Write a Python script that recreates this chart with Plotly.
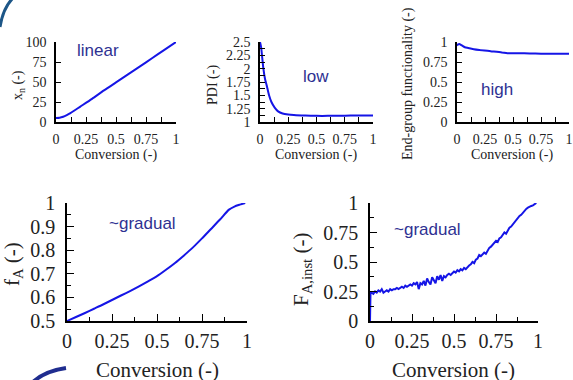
import plotly.graph_objects as go

# ---------------- data ----------------
conv_xn = [0, 0.03, 0.06, 0.09, 0.12, 0.16, 0.2, 0.3, 0.4, 0.5, 0.6, 0.7, 0.8, 0.9, 1.0]
xn = [5, 5.3, 6.5, 8.5, 11, 15, 19, 29, 39.5, 49.5, 59.5, 69.5, 79.7, 89.8, 100]

conv_pdi = [0, 0.01, 0.02, 0.03, 0.045, 0.06, 0.08, 0.1, 0.13, 0.16, 0.2, 0.25, 0.3, 0.4, 0.5, 0.6, 0.7, 0.8, 0.9, 1.0]
pdi = [2.5, 2.4, 2.2, 2.0, 1.8, 1.68, 1.5, 1.38, 1.27, 1.2, 1.16, 1.14, 1.13, 1.12, 1.115, 1.115, 1.117, 1.12, 1.12, 1.12]

conv_egf = [0, 0.01, 0.02, 0.04, 0.07, 0.1, 0.15, 0.2, 0.3, 0.4, 0.45, 0.5, 0.6, 0.7, 0.8, 0.9, 1.0]
egf = [0.955, 0.97, 0.975, 0.96, 0.935, 0.925, 0.91, 0.9, 0.885, 0.87, 0.86, 0.86, 0.858, 0.855, 0.853, 0.853, 0.853]

conv_fa = [0, 0.05, 0.1, 0.15, 0.2, 0.25, 0.3, 0.35, 0.4, 0.45, 0.5, 0.55, 0.6, 0.65, 0.7, 0.75, 0.8, 0.85, 0.9, 0.93, 0.96, 0.99]
fa = [0.5, 0.517, 0.534, 0.552, 0.570, 0.589, 0.608, 0.627, 0.647, 0.668, 0.69, 0.717, 0.746, 0.778, 0.812, 0.85, 0.89, 0.93, 0.972, 0.985, 0.993, 1.0]

conv_fi = [0, 0.003, 0.01, 0.02, 0.03, 0.04, 0.05, 0.06, 0.07, 0.08, 0.09, 0.10,
           0.11, 0.12, 0.13, 0.14, 0.15, 0.16, 0.17, 0.18, 0.19, 0.20,
           0.21, 0.22, 0.23, 0.24, 0.25, 0.26, 0.27, 0.28, 0.29, 0.30,
           0.31, 0.32, 0.33, 0.34, 0.35, 0.36, 0.37, 0.38, 0.39, 0.40,
           0.41, 0.42, 0.43, 0.44, 0.45, 0.46, 0.47, 0.48, 0.49, 0.50,
           0.51, 0.52, 0.53, 0.54, 0.55, 0.56, 0.57, 0.58, 0.59, 0.60,
           0.61, 0.62, 0.63, 0.64, 0.65, 0.66, 0.67, 0.68, 0.69, 0.70,
           0.71, 0.72, 0.73, 0.74, 0.75, 0.76, 0.77, 0.78, 0.79, 0.80,
           0.81, 0.82, 0.83, 0.84, 0.85, 0.86, 0.87, 0.88, 0.89, 0.90,
           0.91, 0.92, 0.93, 0.94, 0.95, 0.96, 0.97, 0.98, 0.99]
fi = [0.0, 0.24, 0.24, 0.23, 0.25, 0.24, 0.26, 0.25, 0.27, 0.24, 0.25, 0.26,
      0.25, 0.27, 0.26, 0.27, 0.27, 0.28, 0.27, 0.28, 0.29, 0.28,
      0.30, 0.29, 0.30, 0.31, 0.30, 0.32, 0.31, 0.33, 0.27, 0.32,
      0.31, 0.34, 0.30, 0.36, 0.33, 0.31, 0.37, 0.34, 0.32, 0.38,
      0.35, 0.39, 0.34, 0.38, 0.37, 0.39, 0.40, 0.39, 0.41, 0.42,
      0.41, 0.43, 0.42, 0.44, 0.43, 0.45, 0.44, 0.46, 0.47, 0.48,
      0.50, 0.49, 0.52, 0.53, 0.56, 0.55, 0.57, 0.58, 0.57, 0.60,
      0.62, 0.63, 0.65, 0.66, 0.68, 0.67, 0.70, 0.71, 0.73, 0.75,
      0.74, 0.77, 0.79, 0.80, 0.82, 0.84, 0.85, 0.87, 0.89, 0.90,
      0.92, 0.94, 0.95, 0.96, 0.97, 0.975, 0.98, 0.99, 1.00]

x_ticks = [0, 0.25, 0.5, 0.75, 1]
x_ticklabels = ["0", "0.25", "0.5", "0.75", "1"]

# ---------------- figure ----------------
W, H = 573, 380
LINE = "#1515e6"
ANN = "#2e3192"
SERIF = "Liberation Serif"
SANS = "Liberation Sans"


def px_x(p):
    return p / W


def px_y(p):
    return 1 - p / H


fig = go.Figure()

panels = [
    # (x data, y data, xpx0, xpx1, ypx_top, ypx_bot, yrange, ydtick, yminor, size, spline)
    (conv_xn, xn, 56, 176, 42, 122, [0, 100], 25, None, "s", True),
    (conv_pdi, pdi, 260, 373, 42, 122, [1, 2.5], 0.25, 0.125, "s", True),
    (conv_egf, egf, 457, 569, 42, 122, [0, 1], 0.25, 0.125, "s", True),
    (conv_fa, fa, 67, 247, 203, 321, [0.5, 1], 0.1, 0.05, "l", True),
    (conv_fi, fi, 370, 538, 203, 321, [0, 1], 0.25, 0.125, "l", False),
]

layout_axes = {}
for i, (xd, yd, x0, x1, yt, yb, yr, ydt, ymin, sz, spl) in enumerate(panels):
    n = "" if i == 0 else str(i + 1)
    fig.add_trace(go.Scatter(x=xd, y=yd, mode="lines",
                             line=dict(color=LINE, width=2,
                                       shape="spline" if spl else "linear",
                                       smoothing=0.7),
                             xaxis="x" + n, yaxis="y" + n, cliponaxis=False,
                             showlegend=False, hoverinfo="skip"))
    fs = 14 if sz == "s" else 20
    tl = 5 if sz == "s" else 7
    ml = 5 if sz == "s" else 4
    common = dict(showline=True, linecolor="black", linewidth=1.5,
                  ticks="inside", tickcolor="black", tickwidth=1.2,
                  ticklen=tl, showgrid=False, zeroline=False, automargin=False,
                  tickfont=dict(family=SERIF, size=fs, color="#222"),
                  fixedrange=True)
    xa = dict(common, domain=[px_x(x0), px_x(x1)], range=[0, 1],
              tickvals=x_ticks, ticktext=x_ticklabels,
              anchor="y" + n, ticklabelstandoff=3 if sz == "s" else 1,
              minor=dict(ticks="inside", tickvals=[0.125, 0.375, 0.625, 0.875],
                         ticklen=ml, tickcolor="black", tickwidth=1.2))
    ya = dict(common, domain=[px_y(yb), px_y(yt)], range=yr,
              dtick=ydt, tick0=yr[0], anchor="x" + n,
              ticklabelstandoff=5 if sz == "s" else 6)
    if ymin is not None:
        ya["minor"] = dict(ticks="inside", dtick=ymin, ticklen=ml,
                           tickcolor="black", tickwidth=1.2)
    layout_axes["xaxis" + n] = xa
    layout_axes["yaxis" + n] = ya

fig.update_layout(**layout_axes)

annotations = []


def ann(text, x, y, size, family, color, angle=0):
    annotations.append(dict(text=text, x=px_x(x), y=px_y(y), xref="paper", yref="paper",
                            showarrow=False, xanchor="center", yanchor="middle",
                            textangle=angle, font=dict(family=family, size=size, color=color)))


# axis titles
ann("x<sub>n</sub> (-)", 18, 85, 14, SERIF, "#222", -90)
ann("PDI (-)", 213, 85, 14, SERIF, "#222", -90)
ann("End-group functionality (-)", 408, 84, 14, SERIF, "#222", -90)
ann("Conversion (-)", 116, 155, 14, SERIF, "#222")
ann("Conversion (-)", 316, 155, 14, SERIF, "#222")
ann("Conversion (-)", 512, 155, 14, SERIF, "#222")
ann("f<sub>A</sub> (-)", 13, 264, 21, SERIF, "#222", -90)
ann("F<sub>A,inst</sub> (-)", 302, 270, 21, SERIF, "#222", -90)
ann("Conversion (-)", 157, 370, 21, SERIF, "#222")
ann("Conversion (-)", 453, 370, 21, SERIF, "#222")

# in-plot labels
ann("linear", 98, 51, 17, SANS, ANN)
ann("low", 316, 77, 17, SANS, ANN)
ann("high", 497, 90, 17, SANS, ANN)
ann("~gradual", 142, 223, 17, SANS, ANN)
ann("~gradual", 427, 229, 17, SANS, ANN)

# decorative slide arcs
shapes = [
    dict(type="path", xref="paper", yref="paper",
         path=f"M {px_x(0)} {px_y(27)} Q {px_x(3)} {px_y(8)} {px_x(13)} {px_y(-2)}",
         line=dict(color="#1d5687", width=3)),
    dict(type="path", xref="paper", yref="paper",
         path=f"M {px_x(33)} {px_y(382)} Q {px_x(45)} {px_y(371)} {px_x(66)} {px_y(368)}",
         line=dict(color="#1f2d8f", width=4)),
]

fig.update_layout(width=W, height=H, margin=dict(l=0, r=0, t=0, b=0),
                  paper_bgcolor="white", plot_bgcolor="white",
                  annotations=annotations, shapes=shapes, showlegend=False)

fig.write_html("out.html", config={"displayModeBar": False},
               post_script="document.body.style.margin='0';document.body.style.overflow='hidden';")
